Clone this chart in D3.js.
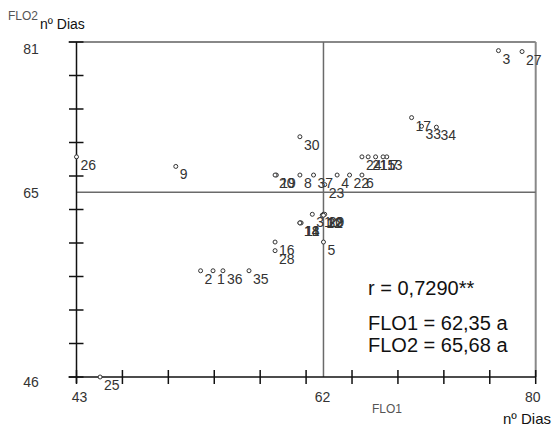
<!DOCTYPE html>
<html>
<head>
<meta charset="utf-8">
<script src="https://cdn.jsdelivr.net/npm/d3@7"></script>
<style>
  html, body { margin: 0; padding: 0; background: #fff; }
  svg { display: block; font-family: Arial, "Liberation Sans", sans-serif; }
</style>
</head>
<body>
<svg id="chart" width="554" height="426"></svg>
<script>
// ---- data ----
const ids  = [1, 2, 3, 4, 5, 6, 7, 8, 9, 10, 11, 12, 13, 14, 15, 16, 17, 18, 19,
              20, 21, 22, 23, 24, 25, 26, 27, 28, 29, 30, 31, 32, 33, 34, 35, 36, 37];
const flo1 = [54.0, 53.0, 77.0, 64.0, 62.9, 66.0, 68.0, 61.0, 51.0, 62.9, 61.1, 62.8, 67.7, 61.0, 67.1, 59.0, 70.0, 61.0, 59.1,
              59.0, 66.5, 65.0, 63.0, 66.0, 44.9, 43.0, 78.9, 59.0, 63.0, 61.0, 62.0, 62.9, 70.8, 72.0, 56.9, 54.8, 62.1];
const flo2 = [57.1, 57.1, 80.1, 67.1, 60.1, 67.1, 69.0, 67.1, 68.0, 63.0, 62.1, 62.9, 69.0, 62.1, 69.0, 60.1, 73.1, 62.1, 67.1,
              67.1, 69.0, 67.1, 66.1, 69.0, 46.0, 69.0, 80.0, 59.2, 63.0, 71.1, 63.0, 62.9, 72.2, 72.1, 57.1, 57.1, 67.1];

const xDomain = [43, 80];
const yDomain = [46, 81];
const crossX = 62.9;   // vertical reference line
const crossY = 65.3;   // horizontal reference line
const xTickLabels = ["43", "62", "80"];
const xTickValues = [43, crossX, 80];
const yTickLabels = ["81", "65", "46"];
const yTickValues = [81, crossY, 46];
const statLines = ["r = 0,7290**", "FLO1 = 62,35 a", "FLO2 = 65,68 a"];

(function () {
// ---- layout ----
const svg = d3.select("#chart");
const pL = 76.5, pR = 535.7, pT = 42, pB = 377;
const x = d3.scaleLinear().domain(xDomain).range([pL, pR]);
const y = d3.scaleLinear().domain(yDomain).range([pB, pT]);
const nDiv = 10;
const xMinor = d3.range(nDiv + 1).map(i => xDomain[0] + i * (xDomain[1] - xDomain[0]) / nDiv);
const yMinor = d3.range(nDiv + 1).map(i => yDomain[0] + i * (yDomain[1] - yDomain[0]) / nDiv);

// frame (top & right, gray)
svg.append("line").attr("x1", pL - 8).attr("x2", pR).attr("y1", y(yDomain[1])).attr("y2", y(yDomain[1]))
  .attr("stroke", "#888").attr("stroke-width", 2);
svg.append("line").attr("x1", x(xDomain[1])).attr("x2", x(xDomain[1])).attr("y1", pT).attr("y2", pB)
  .attr("stroke", "#888").attr("stroke-width", 2);

// reference cross
svg.append("line").attr("x1", pL).attr("x2", pR).attr("y1", y(crossY)).attr("y2", y(crossY))
  .attr("stroke", "#6a6a6a").attr("stroke-width", 1.5);
svg.append("line").attr("x1", x(crossX)).attr("x2", x(crossX)).attr("y1", pT).attr("y2", pB)
  .attr("stroke", "#6a6a6a").attr("stroke-width", 1.5);

// axes (black with crossing ticks)
svg.append("line").attr("x1", pL).attr("x2", pL).attr("y1", pT).attr("y2", pB + 6)
  .attr("stroke", "#111").attr("stroke-width", 1.5);
svg.append("line").attr("x1", pL - 8).attr("x2", pR).attr("y1", pB).attr("y2", pB)
  .attr("stroke", "#111").attr("stroke-width", 1.5);
svg.selectAll(".ytick").data(yMinor).enter().append("line")
  .attr("x1", pL - 7.5).attr("x2", pL + 7).attr("y1", d => y(d)).attr("y2", d => y(d))
  .attr("stroke", "#111").attr("stroke-width", 1.5);
svg.selectAll(".xtick").data(xMinor).enter().append("line")
  .attr("x1", d => x(d)).attr("x2", d => x(d)).attr("y1", pB - 7).attr("y2", pB + 7)
  .attr("stroke", "#111").attr("stroke-width", 1.5);

// tick labels
const tickFont = 14, tickCol = "#333";
svg.selectAll(".xl").data(xTickLabels).enter().append("text")
  .attr("x", (d, i) => x(xTickValues[i]) + (i === 0 ? 3 : (i === 2 ? -3 : -1)))
  .attr("y", 402).attr("text-anchor", "middle")
  .attr("font-size", tickFont).attr("fill", tickCol).text(d => d);
svg.selectAll(".yl").data(yTickLabels).enter().append("text")
  .attr("x", 31)
  .attr("y", (d, i) => y(yTickValues[i]) + (i === 1 ? 6 : (i === 0 ? 12 : 10)))
  .attr("text-anchor", "middle")
  .attr("font-size", tickFont).attr("fill", tickCol).text(d => d);

// axis titles
svg.append("text").attr("x", 8).attr("y", 20).attr("font-size", 12).attr("fill", "#555").text("FLO2");
svg.append("text").attr("x", 40).attr("y", 29).attr("font-size", 14).attr("fill", "#111").text("nº Dias");
svg.append("text").attr("x", 372).attr("y", 413).attr("font-size", 12).attr("fill", "#555").text("FLO1");
svg.append("text").attr("x", 503).attr("y", 424).attr("font-size", 15).attr("fill", "#111").text("nº Dias");

// points
const pts = ids.map((id, i) => ({ id, a: flo1[i], b: flo2[i] }));
const g = svg.append("g");
g.selectAll("circle").data(pts).enter().append("circle")
  .attr("cx", d => x(d.a)).attr("cy", d => y(d.b)).attr("r", 2)
  .attr("fill", "#fff").attr("stroke", "#333").attr("stroke-width", 1);
g.selectAll("text").data(pts).enter().append("text")
  .attr("x", d => x(d.a) + 4).attr("y", d => y(d.b) + 13)
  .attr("font-size", 14).attr("fill", "#333").text(d => d.id);

// statistics text
svg.selectAll(".stat").data(statLines).enter().append("text")
  .attr("x", 368).attr("y", (d, i) => [295, 330, 352][i])
  .attr("font-size", 20).attr("fill", "#111").text(d => d);
})();
</script>
</body>
</html>
